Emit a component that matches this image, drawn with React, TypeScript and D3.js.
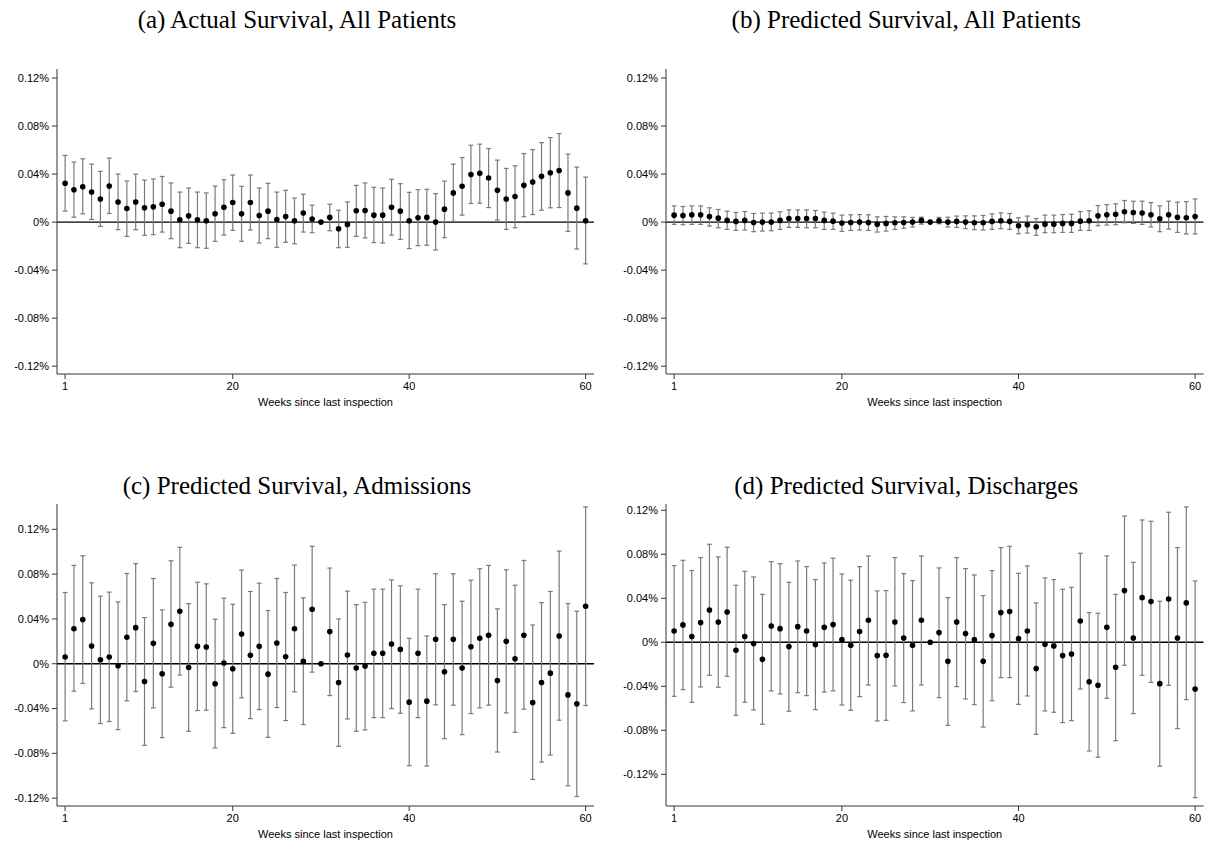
import React from "react";
import * as d3 from "d3";

// Event-study coefficients (percentage points) by weeks since last inspection.
// Week 30 is the omitted reference week (no interval).
const weeks: number[] = d3.range(1, 61);

const actualEst = [0.0323, 0.027, 0.0295, 0.0251, 0.0193, 0.03, 0.0168, 0.0113, 0.0168, 0.0119, 0.0127, 0.0149, 0.0091, 0.0019, 0.0052, 0.0019, 0.0011, 0.0069, 0.0124, 0.0163, 0.0069, 0.0163, 0.0055, 0.0091, 0.0022, 0.0047, 0.0011, 0.0075, 0.0025, 0, 0.0039, -0.0055, -0.0019, 0.0094, 0.0097, 0.0058, 0.0058, 0.0124, 0.0091, 0.0011, 0.0036, 0.0039, 0.0, 0.0108, 0.0243, 0.0298, 0.0397, 0.0406, 0.0367, 0.0265, 0.0193, 0.0213, 0.0306, 0.0334, 0.0381, 0.0411, 0.043, 0.0243, 0.0116, 0.0011];
const actualHi = [0.0555, 0.05, 0.0527, 0.0483, 0.0422, 0.0533, 0.04, 0.0342, 0.04, 0.035, 0.0359, 0.038, 0.0326, 0.025, 0.0284, 0.025, 0.0243, 0.03, 0.0353, 0.0392, 0.0298, 0.0392, 0.0284, 0.0323, 0.025, 0.0265, 0.02, 0.0232, 0.0141, null, 0.0149, 0.0099, 0.0168, 0.0306, 0.0326, 0.029, 0.0284, 0.0356, 0.032, 0.0248, 0.027, 0.0273, 0.0237, 0.0342, 0.0483, 0.0538, 0.064, 0.0649, 0.0613, 0.0516, 0.0447, 0.0469, 0.0571, 0.0604, 0.0662, 0.0704, 0.0737, 0.0566, 0.0458, 0.0375];
const actualLo = [0.0091, 0.0041, 0.0069, 0.0022, -0.0036, 0.0072, -0.0063, -0.0119, -0.0063, -0.011, -0.0105, -0.0083, -0.0138, -0.0213, -0.0177, -0.0213, -0.0218, -0.016, -0.0108, -0.0069, -0.016, -0.0066, -0.0174, -0.0138, -0.021, -0.0168, -0.018, -0.0083, -0.0088, null, -0.0072, -0.0213, -0.021, -0.0119, -0.0132, -0.0171, -0.0174, -0.0108, -0.0144, -0.0221, -0.0196, -0.0193, -0.0232, -0.013, 0.0006, 0.0058, 0.0155, 0.0157, 0.0121, 0.0017, -0.0061, -0.0047, 0.0044, 0.0063, 0.0099, 0.0119, 0.0121, -0.0077, -0.0224, -0.0348];

const predAllEst = [0.0058, 0.0055, 0.0061, 0.0061, 0.0047, 0.0033, 0.0014, 0.0006, 0.0014, -0.0003, 0, 0, 0.0014, 0.003, 0.003, 0.003, 0.003, 0.0014, 0.0008, -0.0008, -0.0003, 0, -0.0003, -0.0017, -0.0011, -0.0006, -0.0003, 0, 0.0014, 0, 0.0011, 0, 0.0006, 0, -0.0006, -0.0006, 0.0006, 0.0011, 0.0006, -0.003, -0.0022, -0.0039, -0.0017, -0.0017, -0.0011, -0.0011, 0.0008, 0.0011, 0.0052, 0.0061, 0.0066, 0.0086, 0.008, 0.0075, 0.0061, 0.0028, 0.0061, 0.0041, 0.0036, 0.0047];
const predAllHi = [0.0135, 0.013, 0.0135, 0.0135, 0.0119, 0.0105, 0.0091, 0.008, 0.0088, 0.0072, 0.0075, 0.0075, 0.0086, 0.0102, 0.0102, 0.0102, 0.0097, 0.0083, 0.0075, 0.0058, 0.0061, 0.0063, 0.0061, 0.0044, 0.0047, 0.0044, 0.0044, 0.0039, 0.0041, null, 0.0039, 0.0041, 0.005, 0.0052, 0.0052, 0.0055, 0.0069, 0.0077, 0.0072, 0.0036, 0.005, 0.003, 0.0058, 0.0058, 0.0063, 0.0066, 0.0088, 0.0094, 0.0138, 0.0146, 0.0152, 0.018, 0.0174, 0.0174, 0.0163, 0.0135, 0.0174, 0.0166, 0.0171, 0.0193];
const predAllLo = [-0.0019, -0.0022, -0.0019, -0.0019, -0.0033, -0.0047, -0.0061, -0.0069, -0.0066, -0.008, -0.0075, -0.0072, -0.0061, -0.0044, -0.0044, -0.0047, -0.0047, -0.0061, -0.0061, -0.0077, -0.0069, -0.0066, -0.0069, -0.0083, -0.0075, -0.0061, -0.0052, -0.0041, -0.0017, null, -0.0014, -0.0041, -0.0044, -0.0055, -0.0063, -0.0066, -0.0061, -0.0055, -0.0061, -0.0097, -0.0091, -0.011, -0.0088, -0.0088, -0.0086, -0.0086, -0.0069, -0.0069, -0.003, -0.0025, -0.0022, -0.0006, -0.0011, -0.0019, -0.0041, -0.008, -0.0058, -0.0086, -0.0099, -0.0099];

const admEst = [0.006, 0.0313, 0.0394, 0.0158, 0.0036, 0.006, -0.0018, 0.0236, 0.0322, -0.0158, 0.0182, -0.009, 0.0352, 0.0469, -0.0033, 0.0155, 0.0149, -0.0179, 0.0006, -0.0045, 0.0266, 0.0075, 0.0155, -0.0093, 0.0185, 0.0063, 0.0313, 0.0021, 0.0487, 0, 0.0287, -0.0167, 0.0078, -0.0039, -0.0021, 0.0093, 0.0093, 0.0176, 0.0128, -0.0343, 0.0093, -0.0334, 0.0218, -0.0072, 0.0218, -0.0039, 0.0152, 0.0227, 0.0254, -0.0149, 0.02, 0.0045, 0.0254, -0.0346, -0.0167, -0.0084, 0.0248, -0.0278, -0.0358, 0.0513];
const admHi = [0.0636, 0.0878, 0.0964, 0.0722, 0.0603, 0.0639, 0.0552, 0.0806, 0.0893, 0.0412, 0.0761, 0.0481, 0.0919, 0.1039, 0.0537, 0.0728, 0.0713, 0.0397, 0.0585, 0.0531, 0.0836, 0.0645, 0.0719, 0.0475, 0.0761, 0.0636, 0.0881, 0.0588, 0.1048, null, 0.0854, 0.04, 0.0648, 0.0528, 0.0549, 0.0666, 0.0666, 0.0749, 0.0696, 0.0227, 0.0666, 0.0248, 0.0803, 0.0528, 0.0803, 0.0558, 0.0746, 0.0848, 0.0878, 0.049, 0.0839, 0.0701, 0.0922, 0.0346, 0.0546, 0.0645, 0.1006, 0.0537, 0.0469, 0.14];
const admLo = [-0.051, -0.0245, -0.0176, -0.0403, -0.0534, -0.0516, -0.0588, -0.0331, -0.0248, -0.0728, -0.0394, -0.066, -0.0209, -0.0101, -0.0603, -0.0418, -0.0415, -0.0752, -0.057, -0.0621, -0.0304, -0.049, -0.0409, -0.0657, -0.0391, -0.0507, -0.0251, -0.0543, -0.0075, null, -0.0284, -0.0737, -0.0493, -0.0603, -0.0591, -0.0481, -0.0481, -0.04, -0.0442, -0.091, -0.0481, -0.0913, -0.0367, -0.0669, -0.037, -0.0633, -0.0445, -0.0394, -0.037, -0.0788, -0.0439, -0.0612, -0.0406, -0.1033, -0.0878, -0.0815, -0.0504, -0.109, -0.1185, -0.0373];

const disEst = [0.0103, 0.0158, 0.0052, 0.0179, 0.0294, 0.0185, 0.0276, -0.0073, 0.0052, -0.0012, -0.0155, 0.0148, 0.0124, -0.0039, 0.0142, 0.0103, -0.0021, 0.0136, 0.0161, 0.0024, -0.0027, 0.0097, 0.02, -0.0121, -0.0118, 0.0185, 0.0039, -0.0027, 0.02, 0, 0.0088, -0.0173, 0.0185, 0.0079, 0.0024, -0.0173, 0.0061, 0.027, 0.0279, 0.0033, 0.0103, -0.0239, -0.0018, -0.0033, -0.0121, -0.0106, 0.0194, -0.0358, -0.0391, 0.0136, -0.0227, 0.047, 0.0039, 0.0406, 0.037, -0.0376, 0.0394, 0.0039, 0.0358, -0.0424];
const disHi = [0.0697, 0.0745, 0.0652, 0.077, 0.0891, 0.0776, 0.0864, 0.0518, 0.0645, 0.0594, 0.0436, 0.0733, 0.0715, 0.0545, 0.0739, 0.0688, 0.057, 0.0721, 0.0764, 0.0621, 0.0564, 0.0688, 0.0785, 0.0467, 0.047, 0.077, 0.0624, 0.0561, 0.0785, null, 0.0676, 0.0406, 0.077, 0.067, 0.0612, 0.0424, 0.0652, 0.0861, 0.0873, 0.0627, 0.0694, 0.0358, 0.0585, 0.057, 0.0482, 0.05, 0.0809, 0.027, 0.0264, 0.0785, 0.0436, 0.1148, 0.0727, 0.1112, 0.11, 0.0373, 0.1182, 0.0861, 0.123, 0.0558];
const disLo = [-0.0491, -0.043, -0.0545, -0.0406, -0.03, -0.0409, -0.0309, -0.0664, -0.0545, -0.0615, -0.0745, -0.0442, -0.047, -0.0627, -0.0458, -0.0485, -0.0612, -0.0452, -0.0442, -0.057, -0.0618, -0.0494, -0.0388, -0.0715, -0.0709, -0.0397, -0.0548, -0.0624, -0.0388, null, -0.0503, -0.0755, -0.0403, -0.0515, -0.0567, -0.077, -0.053, -0.0321, -0.0321, -0.0564, -0.0488, -0.0836, -0.0624, -0.0636, -0.073, -0.0712, -0.0424, -0.0988, -0.1045, -0.0509, -0.0894, -0.0209, -0.0648, -0.03, -0.0364, -0.1127, -0.0391, -0.0785, -0.0521, -0.1412];

const yTicks = [-0.12, -0.08, -0.04, 0, 0.04, 0.08, 0.12];
const xTicks = [1, 20, 40, 60];
const xTitle = "Weeks since last inspection";

type Panel = {
  title: string;
  titleY: number;
  est: number[];
  hi: (number | null)[];
  lo: (number | null)[];
  frameLeft: number;
  left: number;
  right: number;
  top: number;
  bottom: number;
  yDomain: [number, number];
};

const panels: Panel[] = [
  { title: "(a) Actual Survival, All Patients", titleY: 28, est: actualEst, hi: actualHi, lo: actualLo,
    frameLeft: 0, left: 57, right: 594, top: 69, bottom: 374, yDomain: [-0.1265, 0.1275] },
  { title: "(b) Predicted Survival, All Patients", titleY: 28, est: predAllEst, hi: predAllHi, lo: predAllLo,
    frameLeft: 609, left: 666, right: 1203.5, top: 69, bottom: 374, yDomain: [-0.1265, 0.1275] },
  { title: "(c) Predicted Survival, Admissions", titleY: 494, est: admEst, hi: admHi, lo: admLo,
    frameLeft: 0, left: 57, right: 594, top: 504, bottom: 806, yDomain: [-0.127, 0.1426] },
  { title: "(d) Predicted Survival, Discharges", titleY: 494, est: disEst, hi: disHi, lo: disLo,
    frameLeft: 609, left: 666, right: 1203.5, top: 504, bottom: 806, yDomain: [-0.1488, 0.1257] },
];

const fmtPct = (v: number) => (Math.abs(v) < 1e-9 ? "0%" : `${v.toFixed(2)}%`);
const SANS = "'Liberation Sans', Arial, Helvetica, sans-serif";
const SERIF = "'Liberation Serif', 'Times New Roman', serif";

function EventPanel({ p }: { p: Panel }) {
  const x = d3.scaleLinear().domain([0.08, 60.95]).range([p.left, p.right]);
  const y = d3.scaleLinear().domain(p.yDomain).range([p.bottom, p.top]);
  const cap = 2.4;
  return (
    <g>
      <text x={(p.frameLeft + p.right) / 2} y={p.titleY} textAnchor="middle"
        fontFamily={SERIF} fontSize={25} fill="#000">{p.title}</text>
      {/* zero reference line */}
      <line x1={p.left} x2={p.right} y1={y(0)} y2={y(0)} stroke="#000" strokeWidth={1.4} />
      {/* confidence intervals */}
      {weeks.map((w, i) => {
        const hi = p.hi[i];
        const lo = p.lo[i];
        if (hi == null || lo == null) return null;
        const cx = x(w);
        return (
          <g key={`ci${w}`} stroke="#7a7a7a" strokeWidth={1.2}>
            <line x1={cx} x2={cx} y1={y(hi)} y2={y(lo)} />
            <line x1={cx - cap} x2={cx + cap} y1={y(hi)} y2={y(hi)} />
            <line x1={cx - cap} x2={cx + cap} y1={y(lo)} y2={y(lo)} />
          </g>
        );
      })}
      {/* point estimates */}
      {weeks.map((w, i) => (
        <circle key={`pt${w}`} cx={x(w)} cy={y(p.est[i])} r={2.8} fill="#000" />
      ))}
      {/* axes */}
      <line x1={p.left} x2={p.left} y1={p.top} y2={p.bottom} stroke="#333" strokeWidth={1} />
      <line x1={p.left} x2={p.right} y1={p.bottom} y2={p.bottom} stroke="#333" strokeWidth={1} />
      {yTicks.map((t) => (
        <g key={`yt${t}`}>
          <line x1={p.left - 5} x2={p.left} y1={y(t)} y2={y(t)} stroke="#333" strokeWidth={1} />
          <text x={p.left - 8} y={y(t)} dy="0.35em" textAnchor="end" fontFamily={SANS}
            fontSize={11} fill="#000">{fmtPct(t)}</text>
        </g>
      ))}
      {xTicks.map((t) => (
        <g key={`xt${t}`}>
          <line x1={x(t)} x2={x(t)} y1={p.bottom} y2={p.bottom + 5} stroke="#333" strokeWidth={1} />
          <text x={x(t)} y={p.bottom + 16} textAnchor="middle" fontFamily={SANS}
            fontSize={11} fill="#000">{t}</text>
        </g>
      ))}
      <text x={(p.left + p.right) / 2} y={p.bottom + 32} textAnchor="middle" fontFamily={SANS}
        fontSize={11} fill="#000">{xTitle}</text>
    </g>
  );
}

export default function App() {
  return (
    <svg width={1207} height={846} viewBox="0 0 1207 846"
      style={{ position: "absolute", left: 0, top: 0, background: "#fff" }}>
      <rect width={1207} height={846} fill="#fff" />
      {panels.map((p) => (
        <EventPanel key={p.title} p={p} />
      ))}
    </svg>
  );
}
